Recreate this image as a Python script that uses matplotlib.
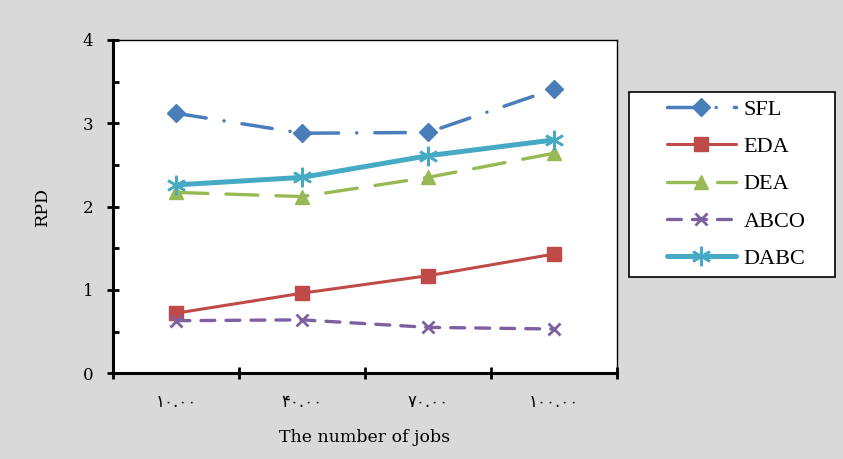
import matplotlib
matplotlib.use("Agg")
import matplotlib.pyplot as plt
from matplotlib.patches import Rectangle
from matplotlib.ticker import FixedLocator, MultipleLocator

plt.rcParams['lines.scale_dashes'] = False

# RPD per algorithm for each problem size
job_labels = ['۱۰.۰۰', '۴۰.۰۰', '۷۰.۰۰', '۱۰۰.۰۰']
sfl = [3.12, 2.88, 2.89, 3.41]
eda = [0.72, 0.96, 1.17, 1.43]
dea = [2.17, 2.12, 2.35, 2.64]
abco = [0.63, 0.64, 0.55, 0.53]
dabc = [2.26, 2.35, 2.61, 2.80]

serif = ['DejaVu Serif']
times = ['Liberation Serif', 'DejaVu Serif']

fig = plt.figure(figsize=(8.43, 4.59), dpi=100)
fig.patch.set_facecolor('#d9d9d9')
ax = fig.add_axes([0.134, 0.187, 0.598, 0.726])

x = list(range(len(job_labels)))
style = dict(dash_capstyle='round', solid_capstyle='round')
h_sfl, = ax.plot(x, sfl, color='#4a7ebb', lw=2.5, marker='D', ms=9,
                 dashes=(22, 13, 0.1, 13), label='SFL', **style)
h_eda, = ax.plot(x, eda, color='#be4b48', lw=2.2, marker='s', ms=10,
                 label='EDA', **style)
h_dea, = ax.plot(x, dea, color='#98b954', lw=2.4, marker='^', ms=10,
                 dashes=(23, 13), label='DEA', **style)
h_abco, = ax.plot(x, abco, color='#7d60a0', lw=2.4, marker='x', ms=9,
                  mew=2, dashes=(10, 8), label='ABCO', **style)
h_dabc, = ax.plot(x, dabc, color='#46aac5', lw=3.6, marker=(6, 2, 0), ms=14,
                  mew=1.8, label='DABC', **style)

ax.set_xlim(-0.5, 3.5)
ax.set_ylim(0, 4)

# category ticks sit between groups, labels centred under each group
ax.xaxis.set_major_locator(FixedLocator([-0.5, 0.5, 1.5, 2.5, 3.5]))
ax.xaxis.set_minor_locator(FixedLocator(x))
ax.set_xticklabels([])
ax.set_xticklabels(job_labels, minor=True, fontsize=12, family='DejaVu Sans')
ax.tick_params(axis='x', which='major', direction='inout', length=8, width=2)
ax.tick_params(axis='x', which='minor', length=0, pad=14)

ax.yaxis.set_major_locator(MultipleLocator(1))
ax.yaxis.set_minor_locator(MultipleLocator(0.5))
ax.tick_params(axis='y', which='major', direction='inout', length=8, width=2,
               labelsize=12, pad=10)
ax.tick_params(axis='y', which='minor', direction='in', length=4, width=2)
for t in ax.get_yticklabels():
    t.set_family(serif)

for side in ('left', 'bottom'):
    ax.spines[side].set_linewidth(2.2)
for side in ('top', 'right'):
    ax.spines[side].set_linewidth(1.0)

ax.set_ylabel('RPD', family=serif, fontsize=12.5, labelpad=23)
ax.set_xlabel('The number of jobs', family=serif, fontsize=12.5, labelpad=13)

# legend box drawn as a figure patch so the entries can be inset freely
fig.patches.append(Rectangle((629 / 843, 1 - 277 / 459), 206 / 843, 185 / 459,
                             transform=fig.transFigure, facecolor='white',
                             edgecolor='black', linewidth=1.2, zorder=0))
fig.legend(handles=[h_sfl, h_eda, h_dea, h_abco, h_dabc],
           loc='center left', bbox_to_anchor=(667 / 843, 1 - 184 / 459),
           numpoints=1, handlelength=3.1, handletextpad=0.35,
           labelspacing=0.75, borderpad=0, borderaxespad=0, frameon=False,
           prop={'family': times, 'size': 16})

fig.savefig('out.png', dpi=100, facecolor=fig.get_facecolor())
